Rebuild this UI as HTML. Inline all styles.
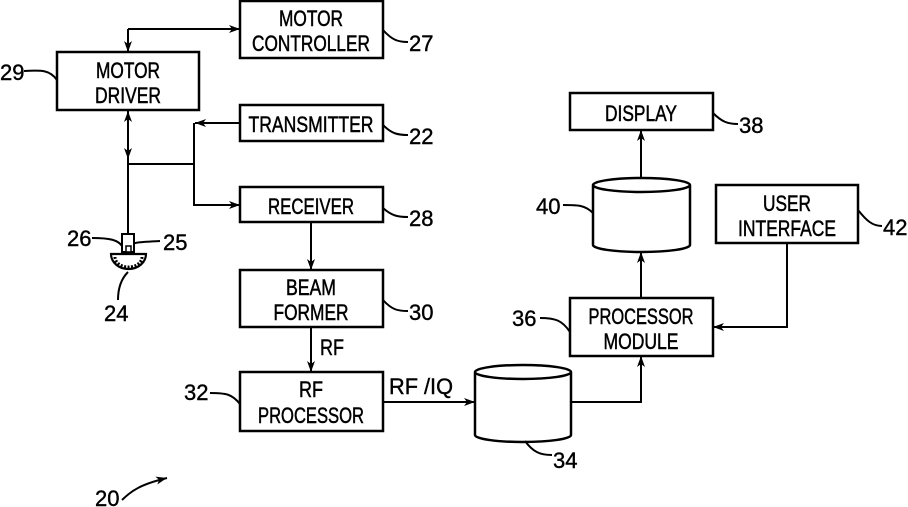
<!DOCTYPE html>
<html><head><meta charset="utf-8"><style>html,body{margin:0;padding:0;background:#fff}svg{display:block}</style></head><body>
<svg width="908" height="507" viewBox="0 0 908 507" xmlns="http://www.w3.org/2000/svg" font-family="Liberation Sans, sans-serif" font-size="22" fill="#000">
<defs><marker id="a" markerWidth="12" markerHeight="10" refX="11" refY="5" orient="auto" markerUnits="userSpaceOnUse"><path d="M0,1 L11,5 L0,9 L3,5 Z" fill="#000"/></marker></defs>
<g fill="none" stroke="#000" stroke-width="2.5">
<rect x="240" y="1" width="143" height="57"/>
<rect x="57" y="52" width="142" height="58"/>
<rect x="240" y="105" width="143" height="36"/>
<rect x="240" y="187" width="143" height="35"/>
<rect x="240" y="270" width="143" height="57"/>
<rect x="240" y="372" width="143" height="59"/>
<rect x="570" y="93" width="143" height="37"/>
<rect x="716" y="185" width="142" height="58"/>
<rect x="570" y="298" width="143" height="58"/>
<path d="M593,185 A48.5,7 0 0 1 690,185 A48.5,7 0 0 1 593,185 M593,185 V245 A48.5,7 0 0 0 690,245 V185"/>
<path d="M475,372 A48,7 0 0 1 571,372 A48,7 0 0 1 475,372 M475,372 V435 A48,7 0 0 0 571,435 V372"/>
</g>
<g fill="none" stroke="#000" stroke-width="2">
<path d="M128,29 H240" marker-end="url(#a)"/>
<path d="M128,29 V52" marker-end="url(#a)"/>
<path d="M128,164 V111" marker-end="url(#a)"/>
<path d="M128,120 V159" marker-end="url(#a)"/>
<path d="M128,164 V234"/>
<path d="M128,164 H194 V123"/>
<path d="M240,123 H195" marker-end="url(#a)"/>
<path d="M194,164 V205 H240" marker-end="url(#a)"/>
<path d="M311,222 V270" marker-end="url(#a)"/>
<path d="M311,327 V372" marker-end="url(#a)"/>
<path d="M383,402 H475" marker-end="url(#a)"/>
<path d="M571,402 H641 V356" marker-end="url(#a)"/>
<path d="M641,298 V252" marker-end="url(#a)"/>
<path d="M641,178 V130" marker-end="url(#a)"/>
<path d="M787,243 V327 H713" marker-end="url(#a)"/>
<path d="M383,30 C392,40 398,42 408,42"/>
<path d="M383,125 C392,134 398,135 408,135"/>
<path d="M383,208 C392,216 398,217 408,217"/>
<path d="M383,300 C392,310 398,311 408,311"/>
<path d="M713,113 C722,122 728,124 738,124"/>
<path d="M858,210 C866,220 872,226 882,226"/>
<path d="M57,80 C50,70 42,70 24,71"/>
<path d="M570,332 C562,320 555,318 540,318"/>
<path d="M593,213 C585,205 578,205 563,205"/>
<path d="M240,404 C232,394 226,393 210,393"/>
<path d="M525,441 C533,452 540,455 552,455"/>
<path d="M92,238 C110,238 118,240 122,246"/>
<path d="M129,246 C134,242 140,242 160,241"/>
<path d="M118,300 C118,290 120,280 128,272"/>
<path d="M122,500 C132,490 142,484 167,478" marker-end="url(#a)"/>
</g>
<rect x="122" y="234" width="12" height="18" fill="#fff" stroke="#000" stroke-width="2"/>
<rect x="126" y="246" width="5" height="6" fill="#fff" stroke="#000" stroke-width="1.5"/>
<path d="M111,254 H146 A17.5,15 0 0 1 111,254 Z" fill="#fff" stroke="#000" stroke-width="2.2"/>
<path d="M115,257 A13.5,10 0 0 0 142,257" fill="none" stroke="#000" stroke-width="3" stroke-dasharray="2 1.5"/>
<g text-anchor="middle" stroke="#000" stroke-width="0.5">
<text x="311" y="26" textLength="64" lengthAdjust="spacingAndGlyphs">MOTOR</text>
<text x="311" y="51" textLength="118" lengthAdjust="spacingAndGlyphs">CONTROLLER</text>
<text x="128" y="78" textLength="64" lengthAdjust="spacingAndGlyphs">MOTOR</text>
<text x="128" y="103" textLength="66" lengthAdjust="spacingAndGlyphs">DRIVER</text>
<text x="311" y="132" textLength="125" lengthAdjust="spacingAndGlyphs">TRANSMITTER</text>
<text x="311" y="214" textLength="86" lengthAdjust="spacingAndGlyphs">RECEIVER</text>
<text x="311" y="295" textLength="50" lengthAdjust="spacingAndGlyphs">BEAM</text>
<text x="311" y="320" textLength="75" lengthAdjust="spacingAndGlyphs">FORMER</text>
<text x="311" y="397" textLength="24" lengthAdjust="spacingAndGlyphs">RF</text>
<text x="311" y="423" textLength="106" lengthAdjust="spacingAndGlyphs">PROCESSOR</text>
<text x="641" y="121" textLength="72" lengthAdjust="spacingAndGlyphs">DISPLAY</text>
<text x="787" y="211" textLength="48" lengthAdjust="spacingAndGlyphs">USER</text>
<text x="787" y="236" textLength="98" lengthAdjust="spacingAndGlyphs">INTERFACE</text>
<text x="641" y="324" textLength="105" lengthAdjust="spacingAndGlyphs">PROCESSOR</text>
<text x="641" y="349" textLength="75" lengthAdjust="spacingAndGlyphs">MODULE</text>
</g>
<g stroke="#000" stroke-width="0.4">
<text x="320" y="355" textLength="24" lengthAdjust="spacingAndGlyphs">RF</text>
<text x="389" y="394" textLength="64" lengthAdjust="spacingAndGlyphs">RF /IQ</text>
<text x="409" y="51">27</text>
<text x="409" y="144">22</text>
<text x="409" y="226">28</text>
<text x="409" y="320">30</text>
<text x="739" y="133">38</text>
<text x="883" y="235">42</text>
<text x="0" y="80">29</text>
<text x="512" y="326">36</text>
<text x="536" y="214">40</text>
<text x="184" y="400">32</text>
<text x="553" y="468">34</text>
<text x="67" y="246">26</text>
<text x="163" y="250">25</text>
<text x="104" y="321">24</text>
<text x="95" y="506">20</text>
</g>
</svg>
</body></html>
